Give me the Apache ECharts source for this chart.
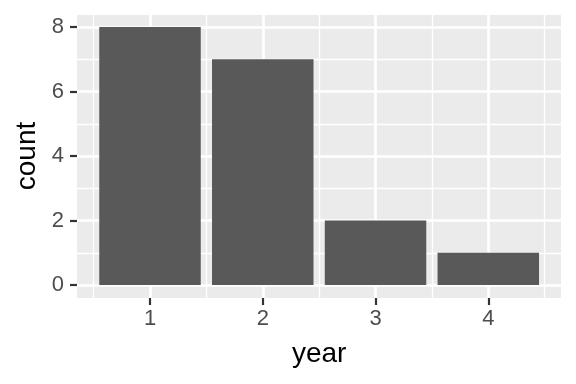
<!DOCTYPE html>
<html>
<head>
<meta charset="utf-8">
<script src="https://cdn.jsdelivr.net/npm/echarts@6/dist/echarts.min.js"></script>
<style>
html,body{margin:0;padding:0;background:#fff;}
#chart{width:576px;height:384px;}
</style>
</head>
<body>
<div id="chart"></div>
<script>
// Data
const years = [1, 2, 3, 4];
const counts = [8, 7, 2, 1];
const yTicks = [0, 2, 4, 6, 8];

const FONT = 'Liberation Sans, Arial, Helvetica, sans-serif';
const chart = echarts.init(document.getElementById('chart'), null, {renderer: 'canvas'});

// Panel geometry (pixels)
const PL = 77, PR = 561, PT = 15, PB = 298;
const X1 = 150, X4 = 488.3;        // pixel of x=1 and x=4
const Y0 = 285, Y8 = 27;           // pixel of y=0 and y=8
const ux = (X4 - X1) / 3;
const xMin = 1 - (X1 - PL) / ux;
const xMax = 4 + (PR - X4) / ux;

const hidden = {show: false};
const noAxisBits = {axisLine: hidden, axisTick: hidden, axisLabel: hidden};

chart.setOption({
  animation: false,
  backgroundColor: '#ffffff',
  graphic: [{
    type: 'rect', left: PL, top: PT, z: -100, silent: true,
    shape: {width: PR - PL, height: PB - PT},
    style: {fill: '#EBEBEB'}
  }],
  grid: [
    {left: PL, right: 576 - PR, top: Y8, bottom: 384 - Y0, containLabel: false},
    {left: X1 - ux / 2, right: 576 - (X4 + ux / 2), top: PT, bottom: 384 - PB},
    {left: X1, right: 576 - X4, top: PT, bottom: 384 - PB}
  ],
  xAxis: [
    {gridIndex: 0, type: 'value', min: xMin, max: xMax, show: false, splitLine: hidden},
    {gridIndex: 1, type: 'value', min: 0.5, max: 4.5, interval: 0.5, ...noAxisBits,
      splitLine: {show: true, lineStyle: {color: '#ffffff', width: 1.3}}},
    {gridIndex: 2, type: 'value', min: years[0], max: years[years.length - 1], interval: 1,
      axisLine: hidden,
      axisTick: {show: true, length: 7, lineStyle: {color: '#333333', width: 2.2}},
      axisLabel: {show: true, margin: 9.5, fontSize: 22, color: '#4D4D4D', fontFamily: FONT},
      splitLine: {show: true, lineStyle: {color: '#ffffff', width: 2.6}},
      name: 'year', nameLocation: 'middle', nameGap: 42,
      nameTextStyle: {fontSize: 28, color: '#000000', fontFamily: FONT}}
  ],
  yAxis: [
    {gridIndex: 0, type: 'value', min: yTicks[0], max: yTicks[yTicks.length - 1], interval: 2,
      axisLine: hidden,
      axisTick: {show: true, length: 7, lineStyle: {color: '#333333', width: 2.2}},
      axisLabel: {show: true, margin: 13, fontSize: 22, color: '#4D4D4D', fontFamily: FONT},
      splitLine: {show: true, lineStyle: {color: '#ffffff', width: 2.6}},
      name: 'count', nameLocation: 'middle', nameGap: 33, nameRotate: 90,
      nameTextStyle: {fontSize: 28, color: '#000000', fontFamily: FONT}},
    {gridIndex: 1, type: 'value', min: 0, max: 1, show: false, splitLine: hidden},
    {gridIndex: 2, type: 'value', min: 0, max: 1, show: false, splitLine: hidden},
    {gridIndex: 0, type: 'value', position: 'right', min: 0, max: 8, interval: 1, ...noAxisBits,
      splitLine: {show: true, lineStyle: {color: '#ffffff', width: 1.3}}}
  ],
  series: [{
    type: 'bar',
    xAxisIndex: 0, yAxisIndex: 0,
    barWidth: 0.9 * ux,
    itemStyle: {color: '#595959'},
    data: years.map((y, i) => [y, counts[i]]),
    silent: true
  }]
});
</script>
</body>
</html>
